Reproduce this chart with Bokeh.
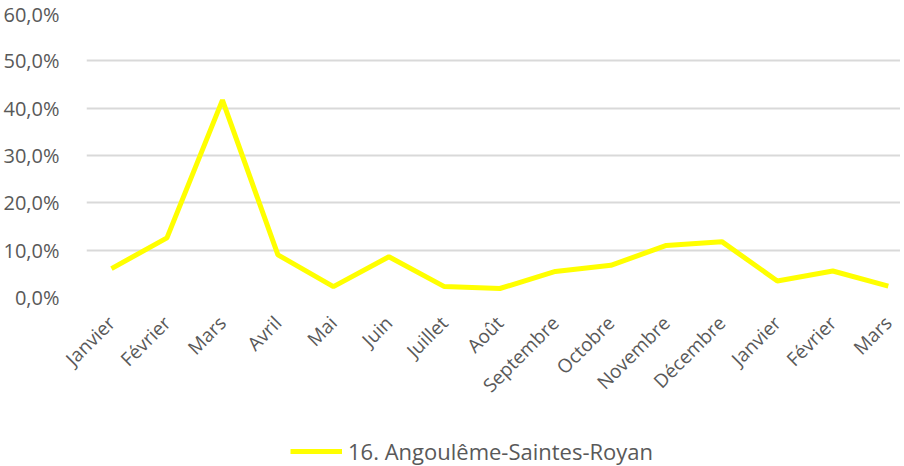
from bokeh.plotting import figure
from bokeh.layouts import column
from bokeh.models import ColumnDataSource, FixedTicker, Legend, LegendItem, Range1d
from bokeh.embed import file_html
from bokeh.resources import INLINE
import math

months = ["Janvier", "Février", "Mars", "Avril", "Mai", "Juin", "Juillet", "Août",
          "Septembre", "Octobre", "Novembre", "Décembre", "Janvier", "Février", "Mars"]
values = [6.1, 12.6, 41.7, 9.0, 2.3, 8.6, 2.3, 1.9, 5.5, 6.8, 11.0, 11.8, 3.5, 5.6, 2.4]
series_name = "16. Angoulême-Saintes-Royan"
y_ticks = [0, 10, 20, 30, 40, 50, 60]

xs = list(range(len(months)))
src = ColumnDataSource(dict(x=xs, y=values))

FONT = "Open Sans"
GRAY = "#595959"
LINE_COLOR = "#ffff00"
LINE_W = 5

p = figure(width=900, height=410, output_backend="svg", toolbar_location=None,
           x_range=Range1d(-0.45, 14.22), y_range=Range1d(0, 60),
           min_border_left=86, min_border_right=0, min_border_top=13,
           min_border_bottom=112)
p.outline_line_color = None
p.background_fill_color = "white"

r = p.line("x", "y", source=src, line_color=LINE_COLOR, line_width=LINE_W)

p.xaxis.ticker = FixedTicker(ticks=xs)
p.xaxis.major_label_overrides = {i: m for i, m in enumerate(months)}
p.xaxis.major_label_orientation = math.pi / 4
p.xaxis.axis_line_color = None
p.xaxis.major_tick_line_color = None
p.xaxis.minor_tick_line_color = None
p.xaxis.major_label_text_font = FONT
p.xaxis.major_label_text_font_size = "19px"
p.xaxis.major_label_text_color = GRAY
p.xaxis.major_label_standoff = 16
p.xgrid.grid_line_color = None

p.yaxis.ticker = FixedTicker(ticks=y_ticks)
p.yaxis.major_label_overrides = {t: f"{t},0%" for t in y_ticks}
p.yaxis.axis_line_color = None
p.yaxis.major_tick_line_color = None
p.yaxis.minor_tick_line_color = None
p.yaxis.major_label_text_font = FONT
p.yaxis.major_label_text_font_size = "20px"
p.yaxis.major_label_text_color = GRAY
p.yaxis.major_label_standoff = 21
p.ygrid.grid_line_color = "#d9d9d9"
p.ygrid.grid_line_width = 2

# legend strip (its line lies outside the visible range; only the legend shows)
p2 = figure(width=900, height=56, output_backend="svg", toolbar_location=None,
            x_range=Range1d(0, 1), y_range=Range1d(0, 1),
            min_border=0, min_border_left=0, min_border_right=0,
            min_border_top=0, min_border_bottom=0,
            x_axis_type=None, y_axis_type=None)
p2.outline_line_color = None
p2.xgrid.grid_line_color = None
p2.ygrid.grid_line_color = None
r2 = p2.line(x=[5, 6], y=[5, 6], line_color=LINE_COLOR, line_width=LINE_W)
legend = Legend(items=[LegendItem(label=series_name, renderers=[r2])],
                location=(204, 0), orientation="horizontal",
                label_text_font=FONT, label_text_font_size="22px",
                label_text_color=GRAY, glyph_width=52, label_standoff=6,
                border_line_color=None, background_fill_alpha=0,
                margin=0, padding=4)
p2.add_layout(legend, "center")

layout = column(p, p2, spacing=0)
open("out.html", "w").write(file_html(layout, INLINE))
